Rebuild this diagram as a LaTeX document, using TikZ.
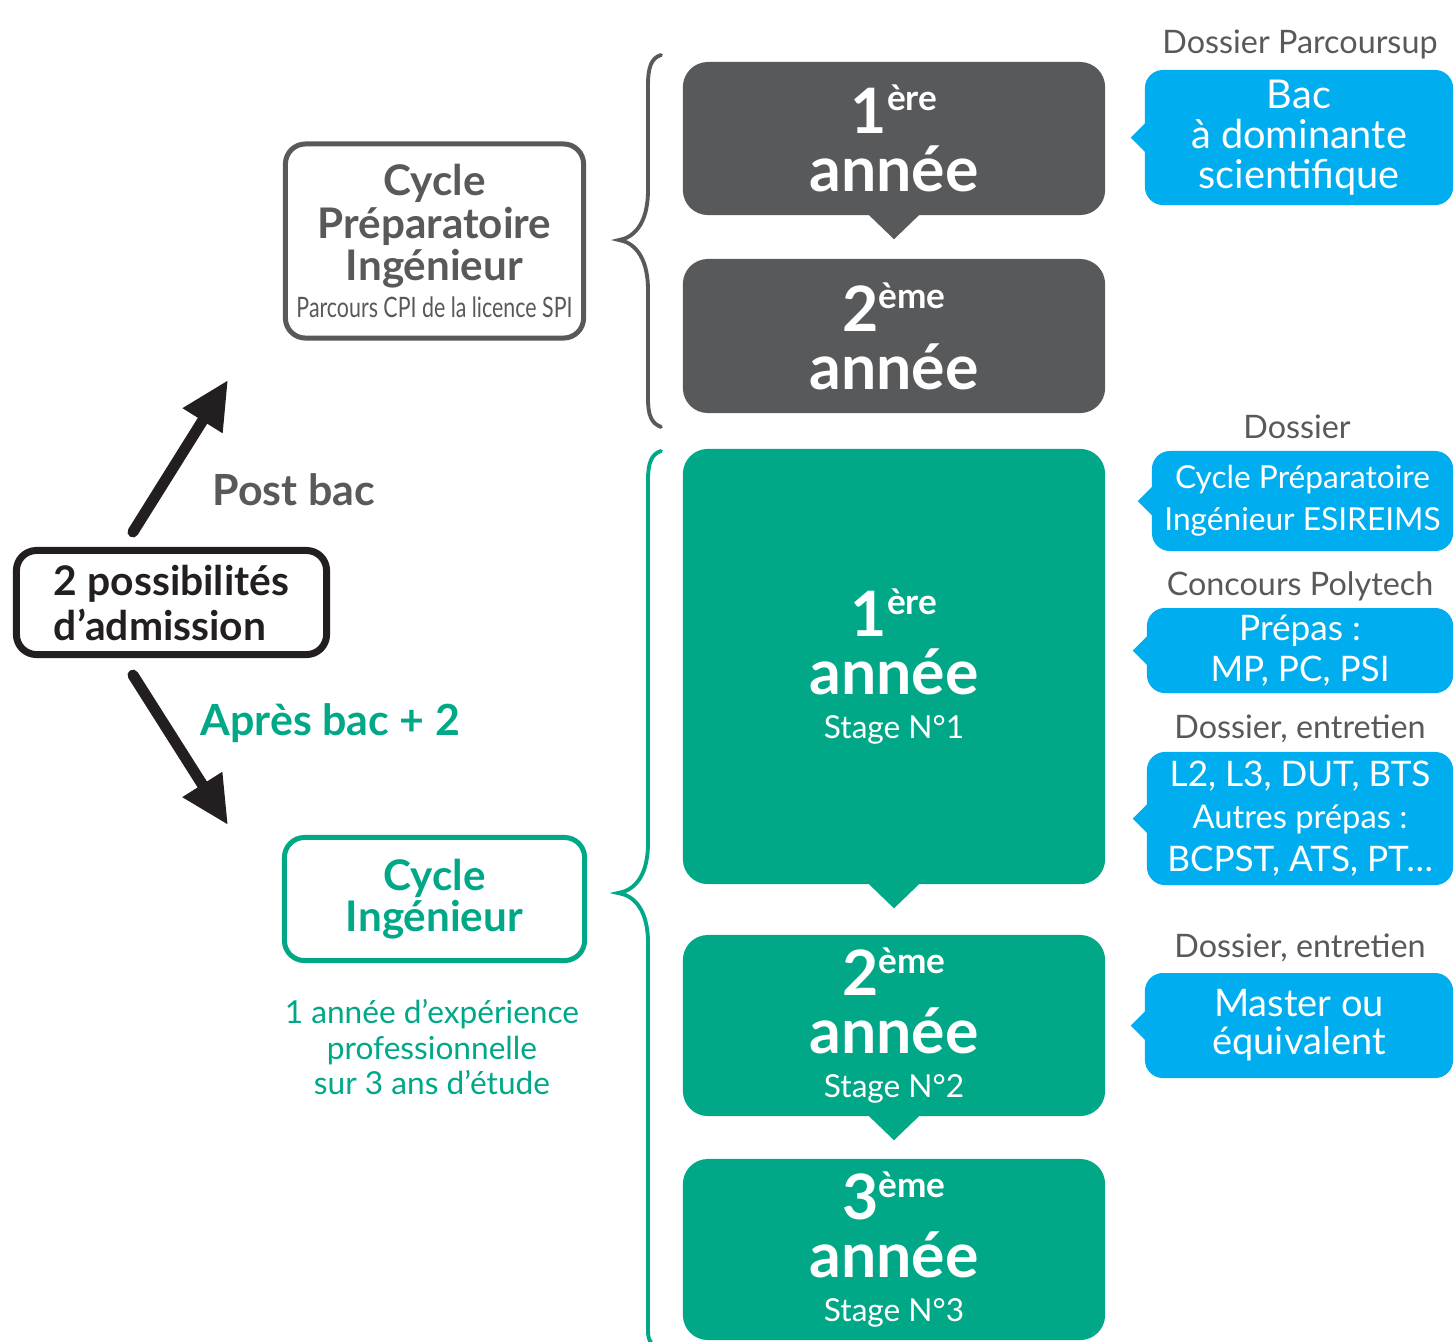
\documentclass[tikz,border=0pt]{standalone}
\usepackage{fontspec}
\setmainfont{Lato}
\newfontfamily\condfont[FakeStretch=0.76]{Lato}
\usetikzlibrary{arrows.meta}

\definecolor{gris}{HTML}{58595B}
\definecolor{vert}{HTML}{00A887}
\definecolor{bleu}{HTML}{00AEEF}
\definecolor{noir}{HTML}{231F20}

% 年级编号 + 上标
\newcommand\annee[2]{#1\raisebox{6.5pt}{\fontsize{10}{10}\selectfont #2}}
% 蓝色气泡左侧的小尖角
\newcommand\pointe[1]{\fill[bleu] ([xshift=1pt]#1.west) ++(0,-17) -- ++(-17,17) -- ++(17,17) -- cycle;}
% 年级方块下方的三角
\newcommand\pointebas[2]{\fill[#2] ([yshift=1pt]#1.south) ++(-28,0) -- ++(28,27) -- ++(28,-27) -- cycle;}

\tikzset{
  anbox/.style={rounded corners=0.25cm, minimum width=4.22cm, inner sep=0pt,
    text=white, align=center, font=\fontsize{17.8}{16.5}\selectfont\bfseries},
  bulle/.style={fill=bleu, rounded corners=0.18cm, inner sep=0pt, text=white, align=center},
  etiq/.style={text=gris, font=\fontsize{9.2}{11}\selectfont, anchor=base},
  cadre/.style={rounded corners=0.2cm, line width=0.05cm, inner sep=0pt, align=center},
  fleche/.style={line width=0.11cm, line cap=round, noir, -{Triangle[length=0.48cm,width=0.44cm]}},
  accolade/.style={line width=1.1pt, line cap=round},
}

\begin{document}
\begin{tikzpicture}[x=0.01cm, y=-0.01cm]
    % 画布: 1455 x 1341 (1 单位 = 0.01cm, y 向下)
    \useasboundingbox (0,0) rectangle (1455,1341);

    % 左侧: 两种入学方式
    \node[cadre, draw=noir, line width=0.07cm, minimum width=3.10cm, minimum height=1.04cm,
      align=left, text=noir, font=\fontsize{11.6}{12.8}\selectfont\bfseries]
      (poss) at (171.5,602.5) {2 possibilités\\d’admission};
    \coordinate (hautpointe) at (228,380);
    \coordinate (baspointe) at (228,825);
    \draw[fleche] ([xshift=-0.385cm,yshift=0.15cm]poss.north) -- (hautpointe);
    \draw[fleche] ([xshift=-0.385cm,yshift=-0.17cm]poss.south) -- (baspointe);
    \node[anchor=base west, text=gris, font=\fontsize{12.2}{12}\selectfont\bfseries, inner sep=0pt]
      (postbac) at (212,505) {Post bac};
    \node[anchor=base west, text=vert, font=\fontsize{12.2}{12}\selectfont\bfseries, inner sep=0pt]
      (apresbac) at (200,735) {Après bac + 2};

    % 两个阶段
    \node[cadre, draw=gris, text=gris, minimum width=2.98cm, minimum height=1.94cm,
      font=\fontsize{12}{12.1}\selectfont\bfseries]
      (cpi) at (434.5,241) {Cycle\\Préparatoire\\Ingénieur\\[-1.6pt]{\condfont\mdseries\fontsize{8}{8}\selectfont Parcours CPI de la licence SPI}};
    \node[cadre, draw=vert, text=vert, minimum width=3.0cm, minimum height=1.23cm,
      font=\fontsize{12}{11.7}\selectfont\bfseries]
      (cing) at (434.5,899) {Cycle\\Ingénieur};
    \node[text=vert, align=center, inner sep=0pt, font=\fontsize{9}{10}\selectfont]
      (experience) at (432,1047) {1 année d’expérience\\professionnelle\\sur 3 ans d’étude};

    % 大括号
    \draw[accolade, gris] (661,55) .. controls (651,58) and (648,68) .. (648,85) -- (648,190)
      .. controls (648,226) and (632,238) .. (619,240) .. controls (632,242) and (648,254) .. (648,290)
      -- (648,398) .. controls (648,415) and (651,423) .. (661,427);
    \draw[accolade, vert] (661,451) .. controls (651,454) and (648,464) .. (648,480) -- (648,843)
      .. controls (648,879) and (632,891) .. (618,893) .. controls (632,895) and (648,907) .. (648,943)
      -- (648,1330) .. controls (648,1337) and (649,1340) .. (651,1342);

    % 年级方块
    \node[anbox, fill=gris, minimum height=1.53cm] (cp1) at (894,138.5) {\annee{1}{ère}\\année};
    \node[anbox, fill=gris, minimum height=1.54cm] (cp2) at (894,336) {\annee{2}{ème}\\année};
    \pointebas{cp1}{gris}
    \node[anbox, fill=vert, minimum height=4.35cm] (ing1) at (894,666.5)
      {\annee{1}{ère}\\année\\[-4pt]{\mdseries\fontsize{9}{9}\selectfont Stage N°1}};
    \node[anbox, fill=vert, minimum height=1.81cm] (ing2) at (894,1025.5)
      {\annee{2}{ème}\\année\\[-4pt]{\mdseries\fontsize{9}{9}\selectfont Stage N°2}};
    \node[anbox, fill=vert, minimum height=1.81cm] (ing3) at (894,1249.5)
      {\annee{3}{ème}\\année\\[-4pt]{\mdseries\fontsize{9}{9}\selectfont Stage N°3}};
    \pointebas{ing1}{vert}
    \pointebas{ing2}{vert}

    % 右侧: 录取条件
    \node[etiq] (lbparcoursup) at (1300,53) {Dossier Parcoursup};
    \node[bulle, minimum width=3.08cm, minimum height=1.35cm, font=\fontsize{11.3}{11.4}\selectfont]
      (bac) at (1299,137.5) {Bac\\à dominante\\scientifique};
    \node[etiq] (lbdossier) at (1297,438) {Dossier};
    \node[bulle, minimum width=3.01cm, minimum height=1.0cm, font=\fontsize{9}{12}\selectfont]
      (esireims) at (1302.5,501) {Cycle Préparatoire\\Ingénieur ESIREIMS};
    \node[etiq] (lbpolytech) at (1300,595) {Concours Polytech};
    \node[bulle, minimum width=3.06cm, minimum height=0.85cm, font=\fontsize{10}{11.8}\selectfont]
      (prepas) at (1300,650.5) {Prépas :\\MP, PC, PSI};
    \node[etiq] (lbentretien) at (1300,738) {Dossier, entretien};
    \node[bulle, minimum width=3.06cm, minimum height=1.33cm, font=\fontsize{10}{12}\selectfont]
      (licence) at (1300,818.5) {L2, L3, DUT, BTS\\{\fontsize{9.3}{9.3}\selectfont Autres prépas :}\\BCPST, ATS, PT…};
    \node[etiq] (lbentretienb) at (1300,957) {Dossier, entretien};
    \node[bulle, minimum width=3.08cm, minimum height=1.05cm, font=\fontsize{10.8}{10.8}\selectfont]
      (master) at (1299,1025.5) {Master ou\\équivalent};
    \pointe{bac}
    \pointe{esireims}
    \pointe{prepas}
    \pointe{licence}
    \pointe{master}
\end{tikzpicture}
\end{document}
